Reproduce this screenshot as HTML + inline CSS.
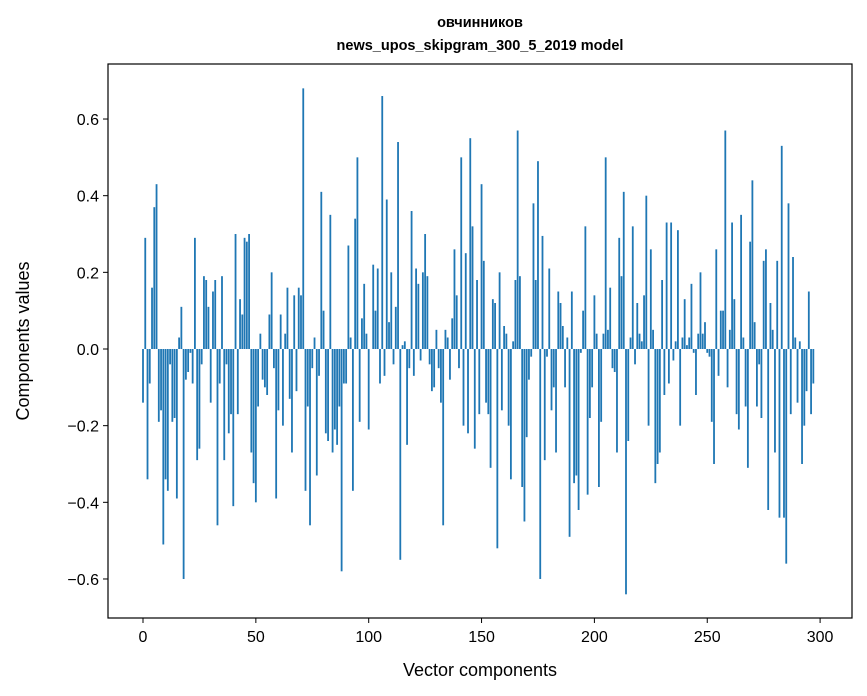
<!DOCTYPE html>
<html><head><meta charset="utf-8"><style>
body{margin:0;background:#fff;}
svg{display:block;font-family:"Liberation Sans","DejaVu Sans",sans-serif;}
</style></head><body>
<svg id="chart" width="867" height="696">
<text x="480" y="27" text-anchor="middle" font-size="14.5" font-weight="bold">овчинников</text>
<text x="480" y="50" text-anchor="middle" font-size="14.5" font-weight="bold">news_upos_skipgram_300_5_2019 model</text>
<g id="bars"></g>
<g id="axes"></g>
<text x="480" y="676" text-anchor="middle" font-size="18">Vector components</text>
<text transform="translate(29,341) rotate(-90)" text-anchor="middle" font-size="18">Components values</text>
</svg>
<script>
const values = [
-0.14,0.29,-0.34,-0.09,0.16,0.37,0.43,-0.19,-0.16,-0.51,
-0.34,-0.37,-0.04,-0.19,-0.18,-0.39,0.03,0.11,-0.6,-0.08,
-0.06,-0.01,-0.09,0.29,-0.29,-0.26,-0.04,0.19,0.18,0.11,
-0.14,0.15,0.18,-0.46,-0.09,0.19,-0.29,-0.04,-0.22,-0.17,
-0.41,0.3,-0.17,0.13,0.09,0.29,0.28,0.3,-0.27,-0.35,
-0.4,-0.15,0.04,-0.08,-0.1,-0.12,0.09,0.2,-0.05,-0.39,
-0.16,0.09,-0.2,0.04,0.16,-0.13,-0.27,0.14,-0.11,0.16,
0.14,0.68,-0.37,-0.15,-0.46,-0.05,0.03,-0.33,-0.07,0.41,
0.1,-0.22,-0.24,0.35,-0.27,-0.21,-0.25,-0.15,-0.58,-0.09,
-0.09,0.27,0.03,-0.37,0.34,0.5,-0.19,0.08,0.17,0.04,
-0.21,0.0,0.22,0.1,0.21,-0.09,0.66,-0.07,0.39,0.07,
0.2,-0.04,0.11,0.54,-0.55,0.01,0.02,-0.25,-0.05,0.36,
-0.07,0.21,0.17,-0.03,0.2,0.3,0.19,-0.04,-0.11,-0.1,
0.05,-0.05,-0.14,-0.46,0.05,0.03,-0.08,0.08,0.26,0.14,
-0.05,0.5,-0.2,0.25,-0.22,0.55,0.32,-0.26,0.18,-0.17,
0.43,0.23,-0.14,-0.17,-0.31,0.13,0.12,-0.52,0.2,-0.16,
0.06,0.04,-0.2,-0.34,0.02,0.18,0.57,0.19,-0.36,-0.45,
-0.23,-0.08,-0.02,0.38,0.18,0.49,-0.6,
0.295,-0.29,-0.02,0.21,-0.16,-0.1,-0.27,0.15,0.12,0.06,
-0.1,0.03,-0.49,0.15,-0.35,-0.33,-0.42,-0.01,0.1,0.32,
-0.38,-0.18,-0.1,0.14,0.04,-0.36,-0.19,0.04,0.5,0.05,
0.16,-0.05,-0.06,-0.27,0.29,0.19,0.41,-0.64,-0.24,0.03,
0.32,-0.04,0.12,0.04,0.02,0.14,0.4,-0.2,0.26,0.05,
-0.35,-0.3,-0.27,0.18,-0.12,0.33,-0.09,0.33,-0.03,0.02,
0.31,-0.2,0.03,
0.13,0.01,0.03,0.17,-0.01,-0.12,0.04,0.2,0.04,0.07,
-0.01,-0.02,-0.19,-0.3,0.26,-0.07,0.1,0.1,0.57,-0.1,
0.05,0.33,0.13,-0.17,-0.21,0.35,0.03,-0.15,-0.31,0.28,
0.44,0.07,-0.15,-0.04,-0.18,0.23,0.26,-0.42,0.12,0.05,
-0.27,0.23,-0.44,0.53,-0.44,-0.56,0.38,-0.17,0.24,0.03,
-0.14,0.02,-0.3,-0.2,-0.11,0.15,-0.17,-0.09
];
const xTicks = [0,50,100,150,200,250,300];
const yTicks = [-0.6,-0.4,-0.2,0.0,0.2,0.4,0.6];
const yTickLabels = ["\u22120.6","\u22120.4","\u22120.2","0.0","0.2","0.4","0.6"];

const L=108,R=852,T=64,B=618;
const X0=143, XS=2.257;
const Y0=349, YS=383.3;
const xs = v => X0 + v*XS;
const ys = v => Y0 - v*YS;
const NS="http://www.w3.org/2000/svg";
const bars=document.getElementById('bars');
values.forEach((v,i)=>{
  const r=document.createElementNS(NS,'rect');
  const w=0.8*XS;
  r.setAttribute('x',xs(i)-w/2);
  r.setAttribute('width',w);
  r.setAttribute('y',Math.min(ys(v),ys(0)));
  r.setAttribute('height',Math.abs(ys(v)-ys(0)));
  r.setAttribute('fill','#1f77b4');
  
  
  bars.appendChild(r);
});
const axes=document.getElementById('axes');
const frame=document.createElementNS(NS,'rect');
frame.setAttribute('x',L);frame.setAttribute('y',T);
frame.setAttribute('width',R-L);frame.setAttribute('height',B-T);
frame.setAttribute('fill','none');frame.setAttribute('stroke','#000');frame.setAttribute('stroke-width','1.2');


axes.appendChild(frame);
xTicks.forEach(t=>{
  const x=xs(t);
  const l=document.createElementNS(NS,'line');
  l.setAttribute('x1',x);l.setAttribute('x2',x);l.setAttribute('y1',B);l.setAttribute('y2',B+5);
  l.setAttribute('stroke','#000');
  
  
  axes.appendChild(l);
  const tx=document.createElementNS(NS,'text');
  tx.setAttribute('x',x);tx.setAttribute('y',B+24);tx.setAttribute('text-anchor','middle');tx.setAttribute('font-size','16');
  tx.textContent=t;
  
  
  axes.appendChild(tx);
});
yTicks.forEach((t,i)=>{
  const y=ys(t);
  const l=document.createElementNS(NS,'line');
  l.setAttribute('x1',L-5);l.setAttribute('x2',L);l.setAttribute('y1',y);l.setAttribute('y2',y);
  l.setAttribute('stroke','#000');
  
  
  axes.appendChild(l);
  const tx=document.createElementNS(NS,'text');
  tx.setAttribute('x',L-9);tx.setAttribute('y',y+6);tx.setAttribute('text-anchor','end');tx.setAttribute('font-size','16');
  tx.textContent=yTickLabels[i];
  
  
  axes.appendChild(tx);
});
</script>
</body></html>
